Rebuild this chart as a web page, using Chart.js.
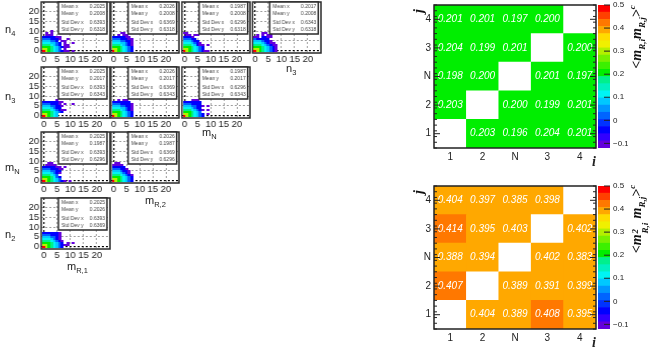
<!DOCTYPE html>
<html><head><meta charset="utf-8">
<style>
html,body{margin:0;padding:0;background:#fff;width:654px;height:362px;overflow:hidden}
canvas{position:absolute}
.lab{position:absolute;font:11px "Liberation Sans",sans-serif;color:#222;white-space:nowrap;line-height:1}
.lab sub{font-size:7.5px;vertical-align:-3px;line-height:0}
.rot{position:absolute;font:bold italic 14px "Liberation Serif",serif;color:#111;white-space:nowrap;transform:translate(-50%,-50%) rotate(-90deg);line-height:1}
.rot sub{font-size:9px;vertical-align:-4px;line-height:0}
.rot sup{font-size:9px;vertical-align:6px;line-height:0}
.st{display:inline-block;position:relative;width:16px;height:1px}
.st i{position:absolute;left:1px;font-size:9px;line-height:1}
</style>
<script src="https://cdn.jsdelivr.net/npm/chart.js@4"></script>
</head><body>
<script>
// ---------- heat map data ----------
const pairLabels = ['1','2','N','3','4'];
const rowsTopDown = ['4','3','N','2','1'];
const mm1 = [
 [0.201,0.201,0.197,0.200,null],
 [0.204,0.199,0.201,null,0.200],
 [0.198,0.200,null,0.201,0.197],
 [0.203,null,0.200,0.199,0.201],
 [null,0.203,0.196,0.204,0.201]];
const mm2 = [
 [0.404,0.397,0.385,0.398,null],
 [0.414,0.395,0.403,null,0.402],
 [0.388,0.394,null,0.402,0.383],
 [0.407,null,0.389,0.391,0.399],
 [null,0.404,0.389,0.408,0.395]];
const zTicks = [-0.1,0,0.1,0.2,0.3,0.4,0.5];
const zMin = -0.12, zStep = 0.031;
const palette = ['#6400dc','#3200ff','#0000ff','#0032ff','#0064ff','#0096ff','#00c8ff','#00f4f4','#00f0c0','#00f08c','#00ee00','#3cf000','#78f000','#b4f000','#f0f000','#ffdc00','#ffa800','#ff7800','#ff4000','#ff0000'];
// ---------- 2-D occupancy panels: rows from top (highest y) to y=0; digit = colour level, '.' = empty ----------
const n4_mR1 = ['...0','.0.0','.000','1111100','2221110..0','333221.00','4443321.0..0','5554321.00','6665432100','7765432.0','9765432100.0'];
const n4_mR2 = ['...00','..0.00','1111100','22211100','33322110','44433210','55543210','66654321','77654321','97654321'];
const n4_mN  = ['00','.00.00','1110','22211','333211','4443210','55543100.0','66654321','77654321','9765432100'];
const n4_n3  = ['...00','.0.0.00','00.1100','211111','3332110','44432100','555432100','666543210','776543210','976543210'];
const n3_mR1 = ['.....0','11111100','2221110.0..0','33322110','4443211','555432100','66654321','776543','976543'];
const n3_mR2 = ['..0.00','1111111','22211110','33322110','44433210','55543210','66654321','77654321','97654321'];
const n3_mN  = ['...000','1111111','2221111','33322110.0','4443211','55543210.0','6665432','77654321.0','97654321'];
const mN_mR1 = ['..00','.0000','1111100.0','22211100','3332211','4443210','555432','6665421','7765432','976543210.0'];
const mN_mR2 = ['.00','0000','11111','222110','3332110','4443210','55543210','66654321','77654321','97654321'];
const n2_mR1 = ['1111110','2221110','3332210','4443210','55543210','66654321.0.0','7765432100','97654321'];
const panelTicks = [0,5,10,15,20];
const digitToPalette = [0,2,4,6,7,9,10,13,15,19];
// stats: mean x, mean y, std x, std y
const statNames = ['Mean x','Mean y','Std Dev x','Std Dev y'];
const meanX = {mR1:'0.2025',mR2:'0.2026',mN:'0.1987',n3:'0.2017'};
const stdX  = {mR1:'0.6393',mR2:'0.6369',mN:'0.6296',n3:'0.6343'};
const meanY = {n4:'0.2008',n3:'0.2017',mN:'0.1987',n2:'0.2026'};
const stdY  = {n4:'0.6318',n3:'0.6343',mN:'0.6296',n2:'0.6369'};

// ---------- layout ----------
const colL = [41,110.7,181.7,252.3], colW = 68.5;
const rowT = [0.5,65,130,196.5], rowH = 52;
const panels = [
 [0,0,n4_mR1,'mR1','n4'],[0,1,n4_mR2,'mR2','n4'],[0,2,n4_mN,'mN','n4'],[0,3,n4_n3,'n3','n4'],
 [1,0,n3_mR1,'mR1','n3'],[1,1,n3_mR2,'mR2','n3'],[1,2,n3_mN,'mN','n3'],
 [2,0,mN_mR1,'mR1','mN'],[2,1,mN_mR2,'mR2','mN'],
 [3,0,n2_mR1,'mR1','n2']];

function mkCanvas(l,t,w,h){const c=document.createElement('canvas');c.width=w;c.height=h;
 c.style.left=l+'px';c.style.top=t+'px';c.style.width=w+'px';c.style.height=h+'px';document.body.appendChild(c);return c;}
function swatch(col){const c=document.createElement('canvas');c.width=3;c.height=2;const x=c.getContext('2d');x.fillStyle=col;x.fillRect(0,0,3,2);return c;}
const swatches = digitToPalette.map(i=>swatch(palette[i]));
function parseRows(rows){const pts=[];rows.forEach((r,i)=>{const y=rows.length-1-i;[...r].forEach((ch,x)=>{if(ch!=='.')pts.push({x,y,d:+ch});});});return pts;}
function fixH(h){return s=>{s.height=h;s.paddingLeft=s.paddingRight=s.paddingTop=s.paddingBottom=0;};}
function fixW(w){return s=>{s.width=w;s.paddingLeft=s.paddingRight=s.paddingTop=s.paddingBottom=0;};}
Chart.defaults.animation=false;
Chart.defaults.font.family='"Liberation Sans",sans-serif';
const AL=22,AB=14,PT=3,PR=4;

panels.forEach(([r,c,rows,xk,yk])=>{
 const fl=colL[c],ft=rowT[r];
 const L=Math.floor(fl)-AL, T=Math.floor(ft)-PT;
 const padL=fl-Math.floor(fl), padT=ft-Math.floor(ft);
 const cv=mkCanvas(L,T,AL+colW+PR+1,PT+rowH+AB+1);
 const stats=[meanX[xk],meanY[yk],stdX[xk],stdY[yk]];
 const pts=parseRows(rows);
 const gridOpts={color:ctx=>ctx.tick&&ctx.tick.value===0?'#000':'#777',lineWidth:ctx=>ctx.tick&&ctx.tick.value===0?1.2:0.7,drawTicks:false};
 new Chart(cv,{type:'scatter',
  data:{datasets:[{data:pts,pointStyle:ctx=>swatches[ctx.raw?ctx.raw.d:0],radius:2}]},
  options:{responsive:false,layout:{padding:{top:PT+padT,right:PR+1-padL-0,left:padL,bottom:0}},
   plugins:{legend:{display:false},tooltip:{enabled:false}},events:[],
   scales:{
    x:{type:'linear',min:-1,max:25,grid:gridOpts,border:{display:false,dash:[2,2]},
       afterFit:fixH(AB),afterBuildTicks:s=>{s.ticks=panelTicks.map(v=>({value:v}))},
       ticks:{autoSkip:false,maxRotation:0,padding:1,color:'#222',font:{size:9.5}}},
    y:{type:'linear',min:-1.25,max:25,grid:gridOpts,border:{display:false,dash:[2,2]},
       afterFit:fixW(AL),afterBuildTicks:s=>{s.ticks=panelTicks.map(v=>({value:v}))},
       ticks:{display:c===0,autoSkip:false,padding:2,color:'#222',font:{size:9.5}}}}},
  plugins:[{id:'frameStats',afterDraw(ch){
    const a=ch.chartArea,x=ch.ctx;x.save();
    x.strokeStyle='#2a2a2a';x.lineWidth=1.5;x.strokeRect(a.left,a.top,a.width,a.height);
    const bx=a.left+17,by=a.top,bw=48,bh=32;
    x.fillStyle='#fff';x.fillRect(bx,by,bw,bh);x.strokeRect(bx,by,bw,bh);
    x.fillStyle='#444';x.font='5px "Liberation Sans",sans-serif';x.textBaseline='middle';
    [5,12,20.5,28].forEach((dy,i)=>{x.textAlign='left';x.fillText(statNames[i],bx+3,by+dy);
      x.textAlign='right';x.fillText(stats[i],bx+bw-2,by+dy);});
    x.restore();}}]
 });
});

// ---------- heat maps ----------
function lvl(v){return Math.max(0,Math.min(19,Math.floor((v-zMin)/zStep+1e-9)));}
function heat(top,matrix){
 const fL=434,fW=162,fH=143,aL=20,aB=18;
 const cv=mkCanvas(fL-aL,top-4,aL+fW+4,4+fH+aB);
 const bottomUp=matrix.slice().reverse();
 const datasets=bottomUp.map(row=>({data:row.map(()=>1),
   backgroundColor:row.map(v=>v===null?'#fff':palette[lvl(v)]),borderWidth:0,stack:'s',barPercentage:1,categoryPercentage:1}));
 const counts={};matrix.flat().forEach(v=>{if(v!==null){const l=lvl(v);counts[l]=(counts[l]||0)+1;}});
 const base=palette[+Object.keys(counts).sort((a,b)=>counts[b]-counts[a])[0]];
 new Chart(cv,{type:'bar',data:{labels:pairLabels,datasets},
  options:{responsive:false,layout:{padding:{top:4,right:4}},events:[],
   plugins:{legend:{display:false},tooltip:{enabled:false}},
   scales:{
    x:{stacked:true,grid:{display:false,drawTicks:false},border:{display:false},afterFit:fixH(aB),
       ticks:{autoSkip:false,maxRotation:0,padding:3,color:'#222',font:{size:10}}},
    y:{stacked:true,type:'linear',min:0,max:5,grid:{display:false,drawTicks:false},border:{display:false},afterFit:fixW(aL),
       afterBuildTicks:s=>{s.ticks=rowsTopDown.map((n,i)=>({value:4.5-i}))},
       ticks:{autoSkip:false,padding:3,color:'#222',font:{size:10},callback:v=>rowsTopDown[Math.round(4.5-v)]}}}},
  plugins:[{id:'under',beforeDatasetsDraw(ch){const a=ch.chartArea;ch.ctx.fillStyle=base;ch.ctx.fillRect(a.left,a.top,a.width,a.height);}},
   {id:'cellText',afterDraw(ch){
    const a=ch.chartArea,x=ch.ctx;x.save();
    bottomUp.forEach((row,di)=>{const m=ch.getDatasetMeta(di);row.forEach((v,ci)=>{
      if(v===null)return;const e=m.data[ci];
      x.fillStyle='#fff';x.font='italic 10px "Liberation Sans",sans-serif';x.textAlign='center';x.textBaseline='middle';
      x.fillText(v.toFixed(3),e.x,(e.y+e.base)/2);});});
    x.strokeStyle='#222';x.lineWidth=1;
    const cellH=a.height/5;
    for(let i=0;i<=25;i++){const y=a.bottom-i*cellH/5;
      x.beginPath();x.moveTo(a.left,y);x.lineTo(a.left+3,y);x.moveTo(a.right,y);x.lineTo(a.right-3,y);x.stroke();}
    for(let i=0;i<5;i++){const y=a.bottom-(i+.5)*cellH;
      x.beginPath();x.moveTo(a.left,y);x.lineTo(a.left+6,y);x.moveTo(a.right,y);x.lineTo(a.right-6,y);x.stroke();}
    x.lineWidth=1.5;x.strokeRect(a.left,a.top,a.width,a.height);x.restore();}}]
 });
 // colour bar
 const bv=mkCanvas(594,top-4,34,4+fH+6);
 const bars=palette.map((col,i)=>({data:[[zMin+i*zStep,zMin+(i+1)*zStep]],backgroundColor:col,borderWidth:0,grouped:false,barPercentage:1,categoryPercentage:1}));
 new Chart(bv,{type:'bar',data:{labels:[''],datasets:bars},
  options:{responsive:false,layout:{padding:{top:4,bottom:0,left:4}},events:[],
   plugins:{legend:{display:false},tooltip:{enabled:false}},
   scales:{
    x:{grid:{display:false,drawTicks:false},border:{display:false},ticks:{display:false},afterFit:fixH(6)},
    y:{type:'linear',position:'right',min:zMin,max:0.5,grid:{display:false,drawTicks:false},border:{display:false},
       afterFit:fixW(18),afterBuildTicks:s=>{s.ticks=zTicks.map(v=>({value:v}))},
       ticks:{autoSkip:false,padding:3,color:'#222',font:{size:8},callback:v=>String(+v.toFixed(1)).replace('-','\u2212')}}}},
  plugins:[{id:'barTicks',afterDraw(ch){const a=ch.chartArea,x=ch.ctx,s=ch.scales.y;x.save();x.strokeStyle='#222';x.lineWidth=1;
    zTicks.forEach(v=>{const y=s.getPixelForValue(v);x.beginPath();x.moveTo(a.right,y);x.lineTo(a.right-6,y);x.stroke();});x.restore();}}]
 });
}
heat(5,mm1);
heat(186,mm2);

// ---------- labels ----------
function lab(x,y,html){const d=document.createElement('div');d.className='lab';d.style.left=x+'px';d.style.top=y+'px';d.innerHTML=html;document.body.appendChild(d);}
function rot(x,y,html){const d=document.createElement('div');d.className='rot';d.style.left=x+'px';d.style.top=y+'px';d.innerHTML=html;document.body.appendChild(d);}
lab(5,24,'n<sub>4</sub>');lab(5,91,'n<sub>3</sub>');lab(5,162,'m<sub>N</sub>');lab(5,229,'n<sub>2</sub>');
lab(67,261,'m<sub>R,1</sub>');lab(145,195,'m<sub>R,2</sub>');lab(202,127,'m<sub>N</sub>');lab(286,63,'n<sub>3</sub>');
const iLab=(x,y)=>{const d=document.createElement('div');d.className='lab';d.style.cssText+=`left:${x}px;top:${y}px;font:bold italic 14px "Liberation Serif",serif`;d.textContent='i';document.body.appendChild(d);};
iLab(592,154);iLab(592,335);
rot(419,11,'j');rot(419,192,'j');
rot(637,37,'&lt;m<sub>R,i</sub>m<sub>R,j</sub>&gt;<sup>c</sup>');
rot(637,219,'&lt;m<span class="st"><i style="top:-9px">2</i><i style="top:1px">R,i</i></span>m<sub>R,j</sub>&gt;<sup>c</sup>');
</script>
</body></html>
